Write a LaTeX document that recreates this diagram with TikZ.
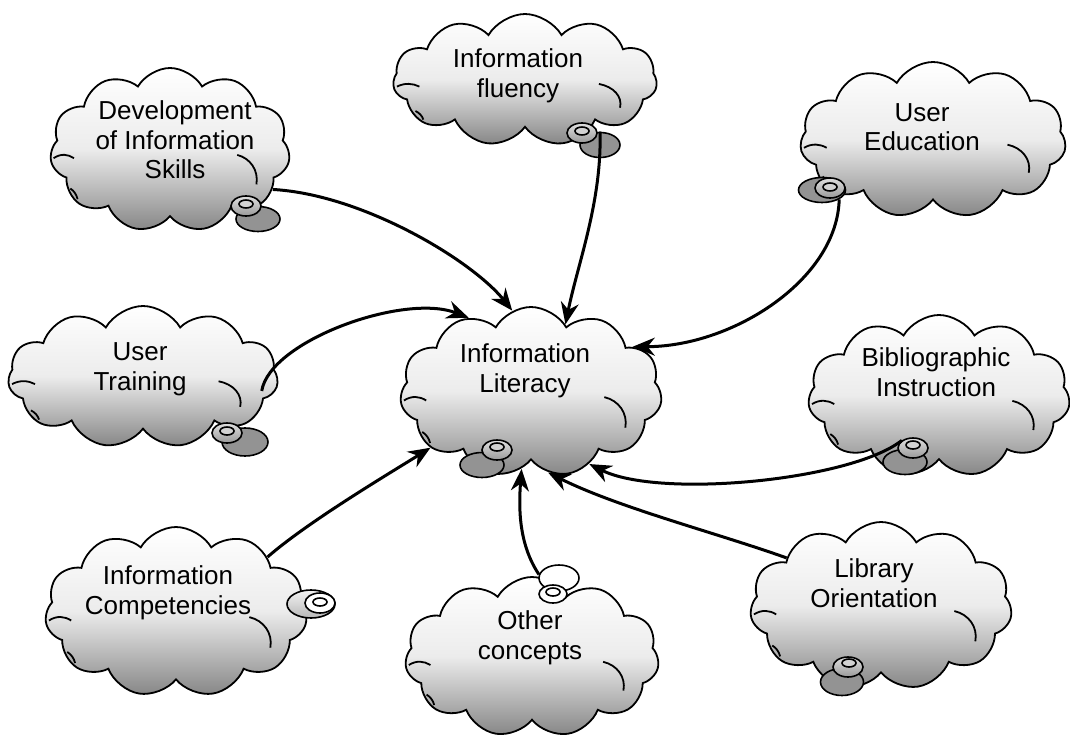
\documentclass[tikz,border=0pt]{standalone}
\usepackage{fontspec}
\setmainfont{Liberation Sans}
\usetikzlibrary{shapes.symbols,shapes.geometric,arrows.meta}
\newcommand{\cloudinner}[3]{%
  \begin{scope}[shift={(#1.center)}, xscale=#2, yscale=#3]
    \draw[line width=0.9pt] (-0.97,0.10) .. controls (-0.91,0.04) and (-0.85,0.05) .. (-0.80,0.10);
    \draw[line width=0.9pt] (0.56,0.06) .. controls (0.67,0.10) and (0.74,0.25) .. (0.72,0.42);
    \draw[line width=0.9pt] (-0.83,0.47) .. controls (-0.80,0.50) and (-0.78,0.54) .. (-0.77,0.60);
  \end{scope}}
\begin{document}
\begin{tikzpicture}[x=0.5pt,y=-0.5pt,
  cloudbox/.style={cloud, cloud puffs=11, cloud puff arc=120, cloud ignores aspect,
    draw=black, line width=0.9pt, top color=white, bottom color=gray!95, middle color=gray!15,
    inner sep=0pt},
  txt/.style={font=\fontsize{13}{14.8}\selectfont, align=center, inner sep=0pt},
  bubbig/.style={ellipse, draw, line width=0.8pt, fill=gray!85, minimum width=22pt,
    minimum height=12.5pt, inner sep=0pt},
  bubsmall/.style={ellipse, draw, line width=0.8pt, top color=gray!25, bottom color=gray!80,
    minimum width=15pt, minimum height=10pt, inner sep=0pt},
  bubin/.style={ellipse, draw, line width=0.8pt, fill=gray!35, minimum width=7pt,
    minimum height=4pt, inner sep=0pt},
  bublight/.style={ellipse, draw, line width=0.8pt, fill=white, inner sep=0pt},
  arr/.style={line width=1.5pt, -{Stealth[length=11pt,width=9pt]}}
]
\fill[white] (0,0) rectangle (1070,738);
\useasboundingbox (0,0) rectangle (1070,738);

% ---------- clouds ----------
\node[cloudbox, minimum width=120pt, minimum height=82pt] (dev) at (170,150) {};
\node[cloudbox, minimum width=132pt, minimum height=66pt] (flu) at (525,80) {};
\node[cloudbox, minimum width=133pt, minimum height=78pt] (ued) at (933,140) {};
\node[cloudbox, minimum width=135pt, minimum height=71pt] (trn) at (143,377) {};
\node[cloudbox, minimum width=131pt, minimum height=85pt] (lit) at (531,392) {};
\node[cloudbox, minimum width=131pt, minimum height=81pt] (bib) at (939,396) {};
\node[cloudbox, minimum width=131pt, minimum height=85pt] (com) at (176,612) {};
\node[cloudbox, minimum width=131pt, minimum height=84pt] (lib) at (881,606) {};
\node[cloudbox, minimum width=127pt, minimum height=80pt] (oth) at (532,657) {};

\cloudinner{dev}{120}{82}
\cloudinner{flu}{132}{66}
\cloudinner{ued}{133}{78}
\cloudinner{trn}{135}{71}
\cloudinner{lit}{131}{85}
\cloudinner{bib}{131}{81}
\cloudinner{com}{131}{85}
\cloudinner{lib}{131}{84}
\cloudinner{oth}{127}{80}

% ---------- thought bubbles ----------
\node[bubbig] (dev-b1) at (258,219) {};
\node[bubsmall] (dev-b2) at (246,206) {};
\node[bubin] (dev-b3) at (246,204) {};

\node[bubbig, minimum width=20pt] (flu-b1) at (600,145) {};
\node[bubsmall] (flu-b2) at (582,133) {};
\node[bubin] (flu-b3) at (582,131) {};

\node[bubbig, minimum width=23.5pt] (ued-b1) at (822,190) {};
\node[bubsmall] (ued-b2) at (830,188) {};
\node[bubin] (ued-b3) at (830,187) {};

\node[bubbig, minimum width=23pt, minimum height=14pt] (trn-b1) at (245,442) {};
\node[bubsmall] (trn-b2) at (227,433) {};
\node[bubin] (trn-b3) at (227,431) {};

\node[bubbig] (lit-b1) at (482,465) {};
\node[bubsmall] (lit-b2) at (497,450) {};
\node[bubin] (lit-b3) at (497,447) {};

\node[bubbig] (bib-b1) at (905,462) {};
\node[bubsmall] (bib-b2) at (913,448) {};
\node[bubin] (bib-b3) at (913,445) {};

\node[bubsmall, minimum width=24pt, minimum height=14pt, top color=gray!10, bottom color=gray!55] (com-b1) at (311,604) {};
\node[bublight, minimum width=15pt, minimum height=10pt] (com-b2) at (320,603) {};
\node[bubin, fill=white] (com-b3) at (320,602) {};

\node[bubbig, minimum width=21.5pt, minimum height=13.5pt] (lib-b1) at (842,682) {};
\node[bubsmall] (lib-b2) at (848,667) {};
\node[bubin] (lib-b3) at (849,663) {};

\node[bublight, minimum width=20pt, minimum height=13pt] (oth-b1) at (559,578) {};
\node[bublight, minimum width=14pt, minimum height=9pt] (oth-b2) at (553,594) {};
\node[bubin, fill=white] (oth-b3) at (553,592) {};

% ---------- texts ----------
\node[txt] (dev-t) at (175,140) {Development\\of Information\\Skills};
\node[txt] (flu-t) at (518,76) {Information\\fluency};
\node[txt] (ued-t) at (922,127) {User\\Education};
\node[txt] (trn-t) at (140,369) {User\\Training};
\node[txt] (lit-t) at (525,371) {Information\\Literacy};
\node[txt] (bib-t) at (936,372) {Bibliographic\\Instruction};
\node[txt] (com-t) at (168,593) {Information\\Competencies};
\node[txt] (lib-t) at (874,583) {Library\\Orientation};
\node[txt] (oth-t) at (530,638) {Other\\concepts};

% ---------- connectors ----------
\draw[arr] (dev.-21) .. controls +(90,5) and +(-40,-50) .. (lit.103);
\draw[arr] (flu-b1.north) .. controls +(2,70) and +(12,-60) .. (lit.63);
\draw[arr] (ued-b1.south east) .. controls +(-2,80) and +(100,0) .. (lit.24);
\draw[arr] ([xshift=-7pt]trn.-6) .. controls +(8,-50) and +(-65,-25) .. (lit.130);
\draw[arr] (com.31) .. controls +(40,-35) and +(-40,25) .. (lit.-151);
\draw[arr] (oth-b1.170) .. controls +(-20,-30) and +(-3,40) .. (lit.-97);
\draw[arr] (lib.153) .. controls +(-70,-25) and +(70,35) .. (lit.-78);
\draw[arr] (bib-b2.north west) .. controls +(-50,40) and +(70,35) .. (lit.-51);
\end{tikzpicture}
\end{document}
